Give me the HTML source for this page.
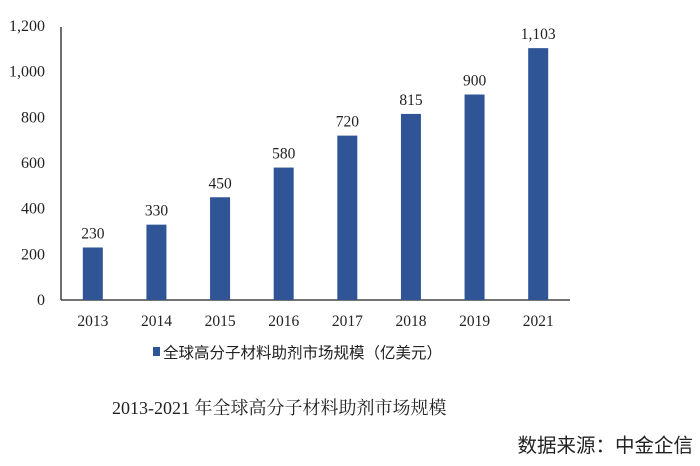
<!DOCTYPE html>
<html><head><meta charset="utf-8"><style>
body{margin:0;background:#fff;width:700px;height:461px;overflow:hidden}
svg text{font-family:"Liberation Serif","Noto Serif CJK SC",serif;fill:#222}
.cjk{font-family:"Liberation Sans","Noto Sans CJK SC",sans-serif}
</style></head><body>
<svg id="c" width="700" height="461">
<line x1="61" y1="27" x2="61" y2="300" stroke="#222" stroke-width="1.3"/>
<line x1="61" y1="300" x2="570" y2="300" stroke="#222" stroke-width="1.3"/>
<g id="bars"></g>
<rect x="153" y="347" width="7" height="9" fill="#2f5597"/>
<text x="163" y="358" font-size="15.5" class="cjk">全球高分子材料助剂市场规模（亿美元）</text>
<text x="112" y="414" font-size="18">2013-2021 年全球高分子材料助剂市场规模</text>
<text x="693" y="452" font-size="19.5" text-anchor="end" class="cjk">数据来源：中金企信</text>
</svg>
<script>
const categories=["2013","2014","2015","2016","2017","2018","2019","2021"];
const values=[230,330,450,580,720,815,900,1103];
const valueLabels=["230","330","450","580","720","815","900","1,103"];
const yTicks=[0,200,400,600,800,1000,1200];
const yTickLabels=["0","200","400","600","800","1,000","1,200"];
const NS="http://www.w3.org/2000/svg";
const svg=document.getElementById('c'),g=document.getElementById('bars');
const x0=61,x1=570,y0=300,y1=26,ymax=1200;
const band=(x1-x0)/categories.length;
const y=v=>y0-(v/ymax)*(y0-y1);
const xc=i=>x0+band*(i+0.5);
function mk(t,a){const e=document.createElementNS(NS,t);for(const k in a)e.setAttribute(k,a[k]);return e;}
yTicks.forEach((v,i)=>{
 const t=mk('text',{x:45,y:y(v)+5,'font-size':16,'text-anchor':'end'});
 
 
 t.textContent=yTickLabels[i];svg.appendChild(t);
});
categories.forEach((c,i)=>{
 const r=mk('rect',{x:xc(i)-10,y:y(values[i]),width:20,height:y0-y(values[i]),fill:'#2f5597'});
 
 
 g.appendChild(r);
 const l=mk('text',{x:xc(i),y:y(values[i])-9,'font-size':15.5,'text-anchor':'middle'});
 
 
 l.textContent=valueLabels[i];svg.appendChild(l);
 const t=mk('text',{x:xc(i),y:326,'font-size':15.5,'text-anchor':'middle'});
 
 
 t.textContent=c;svg.appendChild(t);
});
</script>
</body></html>
